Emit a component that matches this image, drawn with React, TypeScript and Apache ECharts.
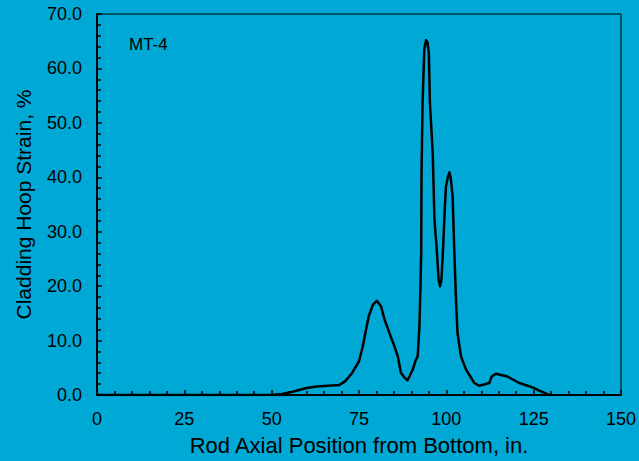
import React, { useEffect, useRef } from "react";
import * as echarts from "echarts";

// Axial position along the rod (in.) and measured cladding hoop strain (%)
const axialPosition = [
  0, 10, 20, 30, 40, 50, 53, 56, 60, 63, 66, 69.4, 71, 73, 75, 76.1, 77, 77.8,
  79, 80.1, 81.3, 82.3, 83.7, 85, 86.1, 87, 88, 88.9, 90.4, 91.3, 91.8, 92.3,
  92.6, 92.8, 92.9, 93.2, 93.7, 94.2, 94.6, 95, 95.3, 96.1, 96.6, 97.2, 97.8,
  98.2, 98.6, 99.1, 99.5, 99.9, 100.5, 100.9, 101.3, 101.8, 102.3, 102.8,
  103.2, 104.2, 105.6, 108, 109.4, 112.3, 113, 114.2, 117.5, 120.9, 124.7,
  126.6, 129.4,
];
const hoopStrain = [
  0, 0, 0, 0, 0, 0, 0.2, 0.6, 1.3, 1.55, 1.7, 1.85, 2.5, 4, 6.2, 9, 12, 14.5,
  16.6, 17.3, 16.3, 13.9, 11.4, 9.2, 7.1, 4.1, 3.2, 2.7, 4.7, 6.5, 7.1, 12.6,
  20, 26, 40.8, 53.6, 63.7, 65.2, 64.8, 62.8, 53.7, 44.5, 32.2, 27.3, 21.2,
  20, 21.2, 27.3, 33.4, 38.3, 40.2, 40.9, 39.6, 36.5, 26.1, 16.9, 11.4, 7.1,
  4.7, 2.2, 1.7, 2.2, 3.4, 3.9, 3.4, 2.2, 1.4, 0.8, 0,
];

const xTicks = { min: 0, max: 150, interval: 25 };
const yTicks = { min: 0, max: 70, interval: 10 };
const rodLabel = "MT-4";

const FONT = "'Liberation Sans', Arial, sans-serif";

export default function App() {
  const ref = useRef<HTMLDivElement>(null);

  useEffect(() => {
    if (!ref.current) return;
    const chart = echarts.init(ref.current, undefined, { renderer: "svg" });
    const points = axialPosition.map((x, i) => [x, hoopStrain[i]]);

    chart.setOption({
      animation: false,
      backgroundColor: "#00a8d5",
      textStyle: { fontFamily: FONT },
      grid: {
        left: 97,
        top: 14,
        right: 17,
        bottom: 63,
        show: true,
        borderColor: "#000",
        borderWidth: 1,
        backgroundColor: "transparent",
      },
      graphic: [
        {
          type: "text",
          left: 129,
          top: 36,
          style: { text: rodLabel, fontSize: 17, fontFamily: FONT, fill: "#000" },
        },
      ],
      xAxis: {
        type: "value",
        min: xTicks.min,
        max: xTicks.max,
        interval: xTicks.interval,
        name: "Rod Axial Position from Bottom, in.",
        nameLocation: "middle",
        nameGap: 39,
        nameTextStyle: { fontSize: 22, color: "#000", fontFamily: FONT },
        axisLine: { show: true, lineStyle: { color: "#000", width: 2 } },
        axisTick: { show: true, inside: true, length: 5, lineStyle: { color: "#000", width: 1.5 } },
        minorTick: { show: true, splitNumber: 5, length: 4, lineStyle: { color: "#000", width: 1.5 } },
        splitLine: { show: false },
        axisLabel: { fontSize: 18, color: "#000", margin: 15, fontFamily: FONT },
      },
      yAxis: {
        type: "value",
        min: yTicks.min,
        max: yTicks.max,
        interval: yTicks.interval,
        name: "Cladding Hoop Strain, %",
        nameLocation: "middle",
        nameGap: 63,
        nameTextStyle: { fontSize: 21, color: "#000", fontFamily: FONT },
        axisLine: { show: true, lineStyle: { color: "#000", width: 2 } },
        axisTick: { show: true, inside: true, length: 5, lineStyle: { color: "#000", width: 1.5 } },
        minorTick: { show: true, splitNumber: 5, length: 4, lineStyle: { color: "#000", width: 1.5 } },
        splitLine: { show: false },
        axisLabel: {
          fontSize: 18,
          color: "#000",
          margin: 15,
          fontFamily: FONT,
          formatter: (v: number) => v.toFixed(1),
        },
      },
      series: [
        {
          type: "line",
          data: points,
          showSymbol: false,
          symbol: "none",
          lineStyle: { color: "#000", width: 2.5, join: "round", cap: "round" },
        },
      ],
    });

    return () => chart.dispose();
  }, []);

  return <div ref={ref} style={{ width: 639, height: 461, position: "absolute", left: 0, top: 0 }} />;
}
